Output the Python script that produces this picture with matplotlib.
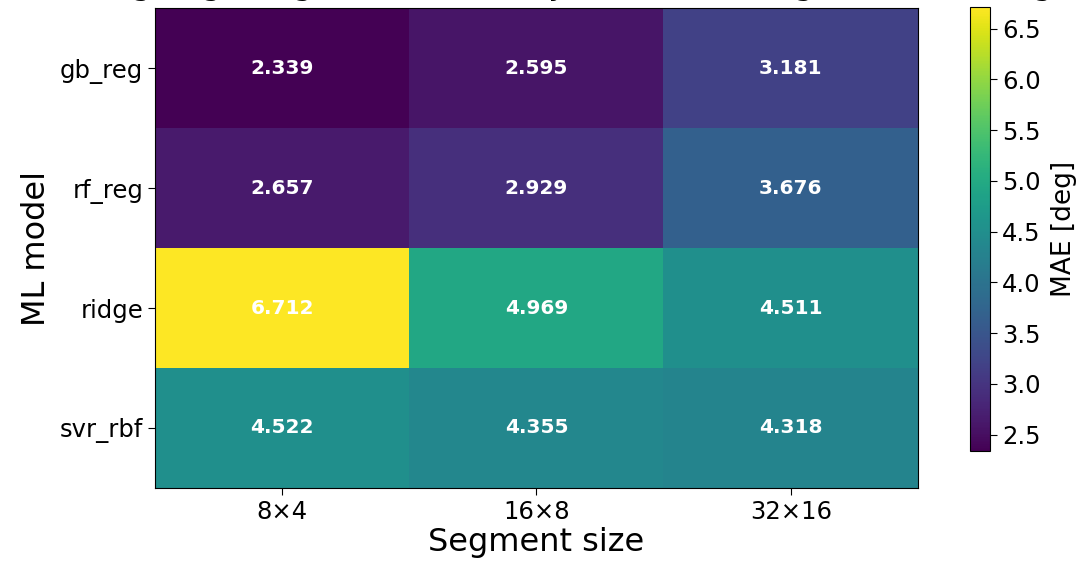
import numpy as np
import matplotlib
matplotlib.use("Agg")
import matplotlib.pyplot as plt

models = ["gb_reg", "rf_reg", "ridge", "svr_rbf"]
segments = ["8×4", "16×8", "32×16"]
mae = np.array([
    [2.339, 2.595, 3.181],
    [2.657, 2.929, 3.676],
    [6.712, 4.969, 4.511],
    [4.522, 4.355, 4.318],
])
title = "Heading angle regression: MAE by model and segment size (deg)"

fig = plt.figure(figsize=(10.85, 5.65), dpi=100)
ax = fig.add_axes([0.1429, 0.1363, 0.7031, 0.8495])
cax = fig.add_axes([0.894, 0.2018, 0.0184, 0.7858])

im = ax.imshow(mae, cmap="viridis", aspect="auto", interpolation="nearest")
for i in range(mae.shape[0]):
    for j in range(mae.shape[1]):
        ax.text(j, i, f"{mae[i, j]:.3f}", ha="center", va="center",
                color="white", fontsize=14.5, fontweight="bold")

ax.set_xticks(range(len(segments)))
ax.set_xticklabels(segments, fontsize=17.5)
ax.set_yticks(range(len(models)))
ax.set_yticklabels(models, fontsize=17.5)
ax.tick_params(length=5)
ax.set_xlabel("Segment size", fontsize=23, labelpad=2)
ax.set_ylabel("ML model", fontsize=23, labelpad=6)

cb = fig.colorbar(im, cax=cax)
cb.set_ticks([2.5, 3.0, 3.5, 4.0, 4.5, 5.0, 5.5, 6.0, 6.5])
cb.ax.tick_params(labelsize=17.5, length=5)
cb.set_label("MAE [deg]", fontsize=19)
cb.ax.yaxis.set_label_coords(4.05, 0.5)

# title sits almost entirely above the canvas; only descenders show
fig.text(0.5, 1.0 + 6 / 565, title, ha="center", va="baseline", fontsize=23)

fig.savefig("out.png", dpi=100)
